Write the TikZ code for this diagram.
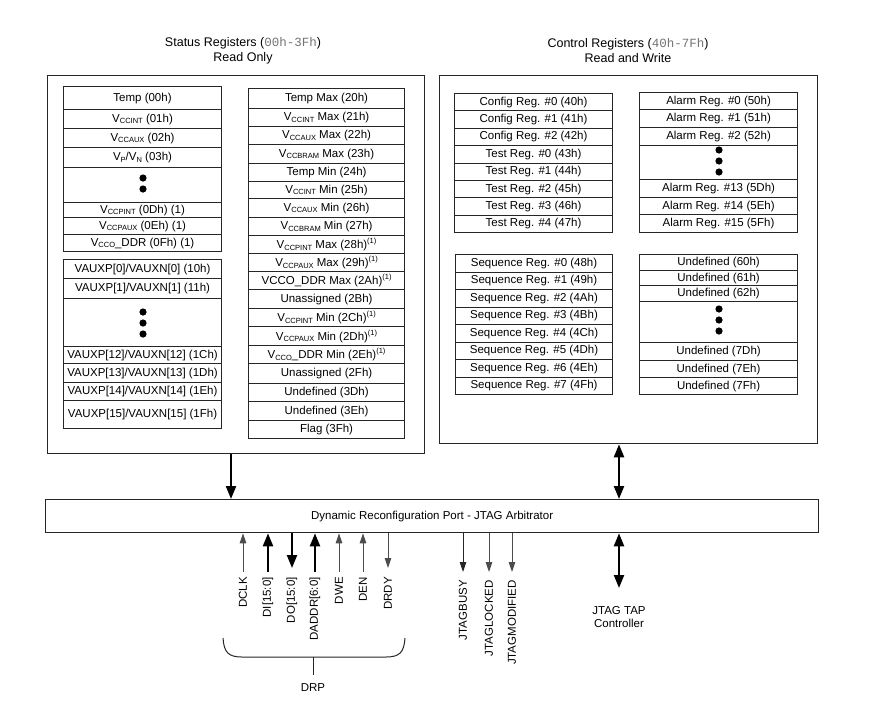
\documentclass[tikz,border=0pt]{standalone}
\usepackage{fontspec}
\setmainfont{Liberation Sans}
\setmonofont{Liberation Mono}
\usetikzlibrary{arrows.meta,calc}
\newcommand\vsub[1]{\raisebox{-0.3ex}{\fontsize{7.5}{8}\selectfont #1}}
\newcommand\fnote[1]{\raisebox{0.85ex}{\fontsize{7.5}{8}\selectfont #1}}
\newcommand\regf{\fontsize{11.5}{13}\selectfont}
\newcommand\hdrf{\fontsize{12.5}{15}\selectfont}
\begin{document}
\begin{tikzpicture}[x=1pt,y=-1pt,
  reg/.style={draw=black!85, line width=1.1pt, inner sep=0pt, anchor=north west, font=\regf},
  outerbox/.style={draw=black!85, line width=1.3pt, inner sep=0pt, anchor=north west},
  bigup/.style={line width=2.2pt, -{Triangle[length=13pt,width=10pt]}},
  bigboth/.style={line width=2.2pt, {Triangle[length=13pt,width=10pt]}-{Triangle[length=13pt,width=10pt]}},
  smallup/.style={line width=1pt, draw=black!70, -{Triangle[length=10pt,width=6.5pt]}},
  siglab/.style={font=\regf, rotate=90, anchor=east, inner sep=1pt},
  dotf/.style={fill=black}
]
\useasboundingbox (0,0) rectangle (882,702);

% headers
\node[font=\hdrf, align=center] (hs) at (243,51) {Status Registers ({\ttfamily\color{black!55}00h-3Fh})\\Read Only};
\node[font=\hdrf, align=center] (hc) at (628,51) {Control Registers ({\ttfamily\color{black!55}40h-7Fh})\\Read and Write};

% outer boxes
\node[outerbox, minimum width=377, minimum height=378] (stat) at (47,75) {};
\node[outerbox, minimum width=378, minimum height=368] (ctrl) at (439,75) {};

% left column, group 1
\foreach \t/\b/\s [count=\i] in {
  86/109/{Temp (00h)},
  109/128/{V\vsub{CCINT} (01h)},
  128/147/{V\vsub{CCAUX} (02h)},
  147/167/{V\vsub{P}/V\vsub{N} (03h)},
  167/202/{},
  202/217/{V\vsub{CCPINT} (0Dh) (1)},
  217/234/{V\vsub{CCPAUX} (0Eh) (1)},
  234/251/{V\vsub{CCO}\_DDR (0Fh) (1)}}
  {\node[reg, minimum width=158, minimum height=\b-\t] (L\i) at (63,\t) {\s};}
\fill[dotf] (143,178) circle (3.6);
\fill[dotf] (143,189) circle (3.6);

% left column, group 2
\foreach \t/\b/\s [count=\i] in {
  259/278/{VAUXP[0]/VAUXN[0] (10h)},
  278/298/{VAUXP[1]/VAUXN[1] (11h)},
  298/346/{},
  346/363/{VAUXP[12]/VAUXN[12] (1Ch)},
  363/382/{VAUXP[13]/VAUXN[13] (1Dh)},
  382/400/{VAUXP[14]/VAUXN[14] (1Eh)},
  400/428/{VAUXP[15]/VAUXN[15] (1Fh)}}
  {\node[reg, minimum width=158, minimum height=\b-\t] (A\i) at (63,\t) {\s};}
\fill[dotf] (143,312) circle (3.6);
\fill[dotf] (143,323) circle (3.6);
\fill[dotf] (143,334) circle (3.6);

% middle column
\foreach \t/\b/\s [count=\i] in {
  88/108/{Temp Max (20h)},
  108/126/{V\vsub{CCINT} Max (21h)},
  126/144/{V\vsub{CCAUX} Max (22h)},
  144/163/{V\vsub{CCBRAM} Max (23h)},
  163/181/{Temp Min (24h)},
  181/198/{V\vsub{CCINT} Min (25h)},
  198/217/{V\vsub{CCAUX} Min (26h)},
  217/235/{V\vsub{CCBRAM} Min (27h)},
  235/253/{V\vsub{CCPINT} Max (28h)\fnote{(1)}},
  253/271/{V\vsub{CCPAUX} Max (29h)\fnote{(1)}},
  271/289/{VCCO\_DDR Max (2Ah)\fnote{(1)}},
  289/308/{Unassigned (2Bh)},
  308/326/{V\vsub{CCPINT} Min (2Ch)\fnote{(1)}},
  326/345/{V\vsub{CCPAUX} Min (2Dh)\fnote{(1)}},
  345/363/{V\vsub{CCO}\_DDR Min (2Eh)\fnote{(1)}},
  363/383/{Unassigned (2Fh)},
  383/401/{Undefined (3Dh)},
  401/420/{Undefined (3Eh)},
  420/438/{Flag (3Fh)}}
  {\node[reg, minimum width=156, minimum height=\b-\t] (M\i) at (248,\t) {\s};}

% config / test registers
\foreach \s [count=\i from 0] in {
  {Config Reg. \#0 (40h)}, {Config Reg. \#1 (41h)}, {Config Reg. \#2 (42h)},
  {Test Reg. \#0 (43h)}, {Test Reg. \#1 (44h)}, {Test Reg. \#2 (45h)},
  {Test Reg. \#3 (46h)}, {Test Reg. \#4 (47h)}}
  {\node[reg, minimum width=158, minimum height=17.375] (C\i) at (454,{93+17.375*\i}) {\s};}

% alarm registers
\foreach \t/\b/\s [count=\i] in {
  92/109/{Alarm Reg. \#0 (50h)},
  109/127/{Alarm Reg. \#1 (51h)},
  127/145/{Alarm Reg. \#2 (52h)},
  145/179/{},
  179/197/{Alarm Reg. \#13 (5Dh)},
  197/214/{Alarm Reg. \#14 (5Eh)},
  214/232/{Alarm Reg. \#15 (5Fh)}}
  {\node[reg, minimum width=158, minimum height=\b-\t] (R\i) at (639,\t) {\s};}
\fill[dotf] (719,150) circle (3.6);
\fill[dotf] (719,161) circle (3.6);
\fill[dotf] (719,172) circle (3.6);

% sequence registers
\foreach \s [count=\i from 0] in {
  {Sequence Reg. \#0 (48h)}, {Sequence Reg. \#1 (49h)}, {Sequence Reg. \#2 (4Ah)},
  {Sequence Reg. \#3 (4Bh)}, {Sequence Reg. \#4 (4Ch)}, {Sequence Reg. \#5 (4Dh)},
  {Sequence Reg. \#6 (4Eh)}, {Sequence Reg. \#7 (4Fh)}}
  {\node[reg, minimum width=157, minimum height=17.5] (S\i) at (455,{254+17.5*\i}) {\s};}

% undefined registers
\foreach \t/\b/\s [count=\i] in {
  254/270/{Undefined (60h)},
  270/285/{Undefined (61h)},
  285/301/{Undefined (62h)},
  301/342/{},
  342/360/{Undefined (7Dh)},
  360/377/{Undefined (7Eh)},
  377/394/{Undefined (7Fh)}}
  {\node[reg, minimum width=158, minimum height=\b-\t] (U\i) at (639,\t) {\s};}
\fill[dotf] (719,309) circle (3.6);
\fill[dotf] (719,320) circle (3.6);
\fill[dotf] (719,331) circle (3.6);

% DRP / JTAG arbitrator bar
\node[outerbox, minimum width=773, minimum height=33, font=\regf] (bar) at (45,499) {Dynamic Reconfiguration Port - JTAG Arbitrator};

% connections above bar
\coordinate (xa) at (231,0);
\coordinate (xb) at (619,0);
\draw[bigup] (stat.south -| xa) -- (bar.north -| xa);
\draw[bigboth] (ctrl.south -| xb) -- (bar.north -| xb);

% JTAG TAP
\node[font=\regf, align=center, inner sep=0pt] (tap) at (619,617) {JTAG TAP\\Controller};
\coordinate (tapend) at (619,588);
\draw[bigboth] (bar.south -| xb) -- (tapend);

% DRP signals
\node[siglab] (dclk) at (243,576) {DCLK};
\node[siglab] (di) at (268,576) {DI[15:0]};
\node[siglab] (do) at (292,576) {DO[15:0]};
\node[siglab] (daddr) at (315,576) {DADDR[6:0]};
\node[siglab] (dwe) at (339,576) {DWE};
\node[siglab] (den) at (363,576) {DEN};
\node[siglab] (drdy) at (388,576) {DRDY};
\draw[smallup, shorten <=4pt] (dclk.east) -- (bar.south -| dclk.east);
\draw[bigup, shorten <=4pt] (di.east) -- (bar.south -| di.east);
\draw[bigup, shorten >=8pt] (bar.south -| do.east) -- (do.east);
\draw[bigup, shorten <=4pt] (daddr.east) -- (bar.south -| daddr.east);
\draw[smallup, shorten <=4pt] (dwe.east) -- (bar.south -| dwe.east);
\draw[smallup, shorten <=4pt] (den.east) -- (bar.south -| den.east);
\draw[smallup, shorten >=8pt] (bar.south -| drdy.east) -- (drdy.east);

% JTAG status signals
\node[siglab] (jbusy) at (463,579) {JTAGBUSY};
\node[siglab] (jlock) at (489,579) {JTAGLOCKED};
\node[siglab] (jmod) at (512,579) {JTAGMODIFIED};
\draw[smallup, draw=black!85, shorten >=7pt] (bar.south -| jbusy.east) -- (jbusy.east);
\draw[smallup, shorten >=7pt] (bar.south -| jlock.east) -- (jlock.east);
\draw[smallup, shorten >=7pt] (bar.south -| jmod.east) -- (jmod.east);

% DRP brace
\draw[line width=1pt, black!85] (223,638) .. controls (224,652) and (228,657) .. (242,657)
  -- (386,657) .. controls (400,657) and (404,652) .. (405,638);
\coordinate (bmid) at (313,657);
\node[font=\regf, anchor=north, inner sep=1pt] (drp) at (313,682) {DRP};
\draw[line width=1pt, black!85] (bmid) -- ++(0,18);
\end{tikzpicture}
\end{document}
